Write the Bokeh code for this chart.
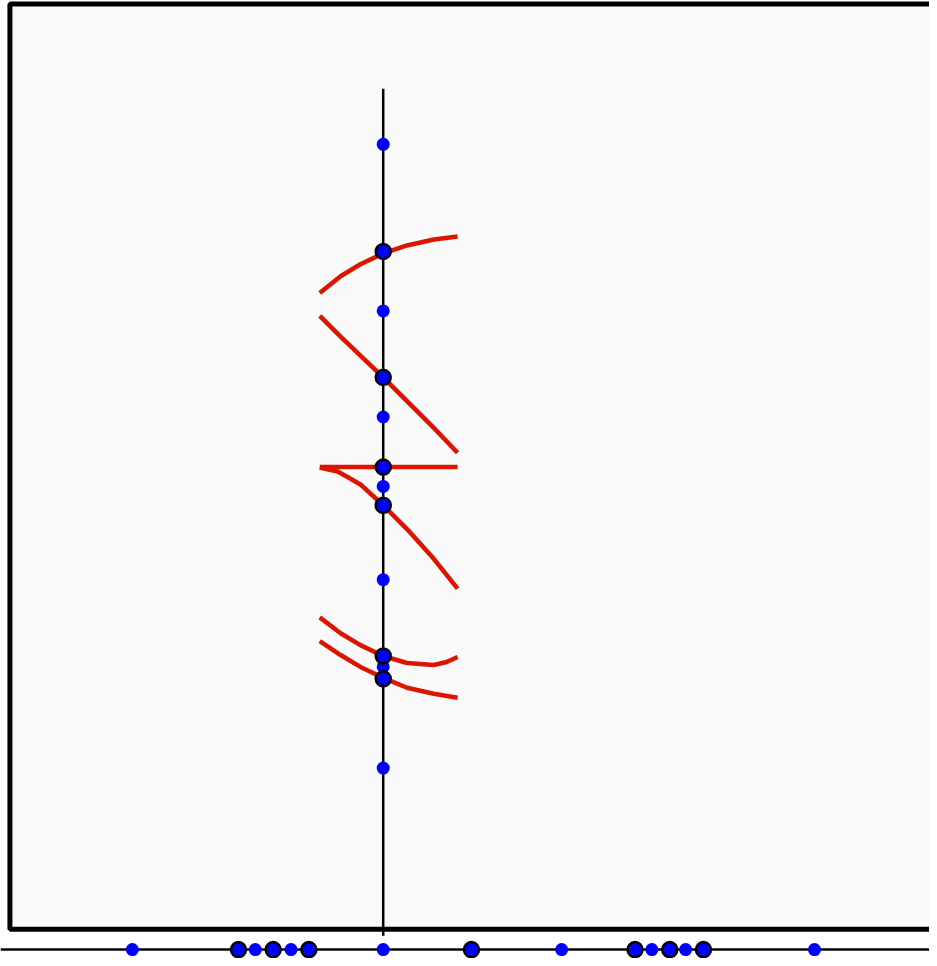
from bokeh.plotting import figure
from bokeh.embed import file_html
from bokeh.resources import INLINE
from bokeh.models import Range1d

# ---- data (x: horizontal position, y: vertical position, in chart units) ----
# points on the vertical line (x = 0)
axis_small_y = [8.12, 6.44, 5.37, 4.67, 3.73, 2.85, 1.83]
axis_large_y = [7.04, 5.77, 4.865, 4.48, 2.96, 2.73]

# points on the bottom strip line (y = 0)
strip_small_x = [-2.53, -1.29, -0.93, 0.0, 1.80, 2.71, 3.05, 4.35]
strip_large_x = [-1.46, -1.11, -0.75, 0.89, 2.54, 2.89, 3.23]

# red curves (x samples, y samples)
curve_1_x = [-0.64, -0.43, -0.23, 0.0, 0.24, 0.51, 0.75]
curve_1_y = [6.62, 6.79, 6.91, 7.02, 7.10, 7.16, 7.19]
curve_2_x = [-0.64, -0.43, -0.23, 0.0, 0.24, 0.51, 0.75]
curve_2_y = [6.39, 6.18, 5.99, 5.77, 5.53, 5.26, 5.01]
curve_3_x = [-0.64, 0.75]
curve_3_y = [4.865, 4.865]
curve_4_x = [-0.64, -0.46, -0.36, -0.23, 0.0, 0.24, 0.51, 0.75]
curve_4_y = [4.86, 4.82, 4.765, 4.69, 4.48, 4.24, 3.94, 3.64]
curve_5_x = [-0.64, -0.43, -0.23, 0.0, 0.24, 0.51, 0.64, 0.75]
curve_5_y = [3.35, 3.19, 3.07, 2.96, 2.89, 2.87, 2.90, 2.95]
curve_6_x = [-0.64, -0.43, -0.23, 0.0, 0.24, 0.51, 0.75]
curve_6_y = [3.11, 2.97, 2.85, 2.74, 2.64, 2.58, 2.54]
curves = [(curve_1_x, curve_1_y), (curve_2_x, curve_2_y), (curve_3_x, curve_3_y),
          (curve_4_x, curve_4_y), (curve_5_x, curve_5_y), (curve_6_x, curve_6_y)]

# vertical line extent and box extent
vline_top, vline_bottom = 8.68, 0.14
box_left, box_right, box_top, box_bottom = -3.765, 6.5, 9.535, 0.205

BLUE = "#0000ff"
RED = "#dc1400"

p = figure(width=929, height=958, output_backend="svg", toolbar_location=None,
           x_range=Range1d(-3.86, 5.51), y_range=Range1d(-0.09, 9.57),
           min_border=0)
p.axis.visible = False
p.grid.visible = False
p.outline_line_color = None
p.background_fill_color = "white"
p.border_fill_color = "white"

# panel box
p.quad(left=[box_left], right=[box_right], top=[box_top], bottom=[box_bottom],
       fill_color="#fafafa", line_color="black", line_width=5)

# bottom strip line
p.segment(x0=[-3.86], x1=[5.51], y0=[0], y1=[0], line_color="black", line_width=2.5)

# vertical line
p.segment(x0=[0], x1=[0], y0=[vline_bottom], y1=[vline_top], line_color="black", line_width=2.5)

# red curves
for cx, cy in curves:
    p.line(cx, cy, line_color=RED, line_width=4.5, line_join="round")

# points on vertical line
p.scatter([0] * len(axis_small_y), axis_small_y, size=13, fill_color=BLUE, line_color=None)
p.scatter([0] * len(axis_large_y), axis_large_y, size=15, fill_color=BLUE,
          line_color="black", line_width=2.5)

# points on bottom strip
p.scatter(strip_small_x, [0] * len(strip_small_x), size=13, fill_color=BLUE, line_color=None)
p.scatter(strip_large_x, [0] * len(strip_large_x), size=15, fill_color=BLUE,
          line_color="black", line_width=2.5)

open("out.html", "w").write(file_html(p, INLINE))
